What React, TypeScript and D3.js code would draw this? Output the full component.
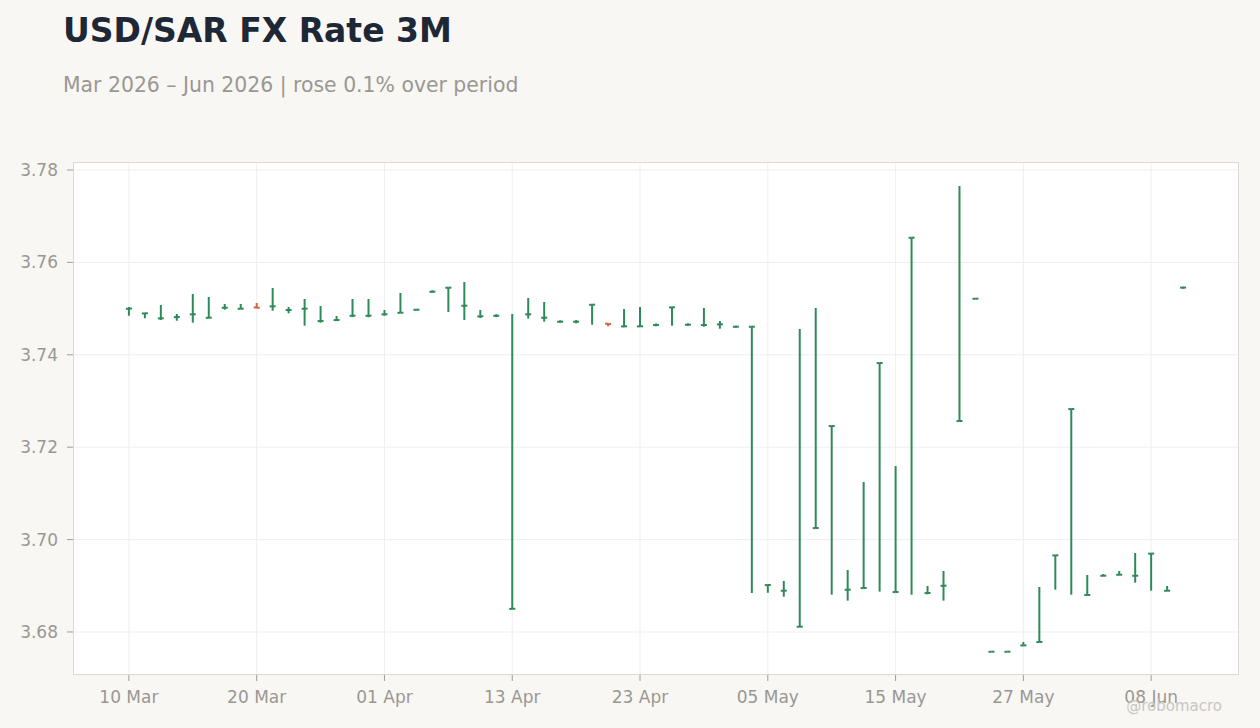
import * as d3 from "d3";

// business days, Mar 10 – Jun 10 2026
const dates = [
  "2026-03-10", "2026-03-11", "2026-03-12", "2026-03-13", "2026-03-16", "2026-03-17",
  "2026-03-18", "2026-03-19", "2026-03-20", "2026-03-23", "2026-03-24", "2026-03-25",
  "2026-03-26", "2026-03-27", "2026-03-30", "2026-03-31", "2026-04-01", "2026-04-02",
  "2026-04-03", "2026-04-06", "2026-04-07", "2026-04-08", "2026-04-09", "2026-04-10",
  "2026-04-13", "2026-04-14", "2026-04-15", "2026-04-16", "2026-04-17", "2026-04-20",
  "2026-04-21", "2026-04-22", "2026-04-23", "2026-04-24", "2026-04-27", "2026-04-28",
  "2026-04-29", "2026-04-30", "2026-05-01", "2026-05-04", "2026-05-05", "2026-05-06",
  "2026-05-07", "2026-05-08", "2026-05-11", "2026-05-12", "2026-05-13", "2026-05-14",
  "2026-05-15", "2026-05-18", "2026-05-19", "2026-05-20", "2026-05-21", "2026-05-22",
  "2026-05-25", "2026-05-26", "2026-05-27", "2026-05-28", "2026-05-29", "2026-06-01",
  "2026-06-02", "2026-06-03", "2026-06-04", "2026-06-05", "2026-06-08", "2026-06-09",
  "2026-06-10",
];

const open = [
  3.74995, 3.74895, 3.74788, 3.74815, 3.74875, 3.748, 3.75018, 3.74996, 3.75025, 3.75048,
  3.74968, 3.74996, 3.7473, 3.74751, 3.74844, 3.74844, 3.74875, 3.74909, 3.74974, 3.75364,
  3.75451, 3.75061, 3.74831, 3.74844, 3.685, 3.74875, 3.74801, 3.74715, 3.74715, 3.75083,
  3.74673, 3.74615, 3.74615, 3.74643, 3.75026, 3.7465, 3.74643, 3.74658, 3.74606, 3.74606,
  3.69015, 3.68892, 3.68113, 3.70249, 3.72457, 3.68914, 3.6895, 3.73821, 3.68864, 3.76533,
  3.68842, 3.69, 3.72565, 3.75213, 3.67572, 3.67572, 3.67708, 3.67782, 3.69658, 3.72825,
  3.68799, 3.69217, 3.69238, 3.69217, 3.69695, 3.68892, 3.75453,
];

const high = [
  3.75035, 3.749, 3.75078, 3.74883, 3.75316, 3.75251, 3.751, 3.751, 3.75121, 3.75446,
  3.75035, 3.75208, 3.75056, 3.7484, 3.75208, 3.75208, 3.7497, 3.75338, 3.7499, 3.75396,
  3.75453, 3.75576, 3.7497, 3.74877, 3.74883, 3.75229, 3.75143, 3.74747, 3.74753, 3.75085,
  3.74675, 3.74991, 3.75035, 3.74675, 3.75028, 3.7468, 3.75013, 3.74732, 3.7463, 3.74608,
  3.69017, 3.69104, 3.74558, 3.75013, 3.72459, 3.69342, 3.71247, 3.73823, 3.71593, 3.76535,
  3.68996, 3.6932, 3.77654, 3.75225, 3.6758, 3.6758, 3.67784, 3.68974, 3.6966, 3.72827,
  3.69234, 3.69255, 3.6932, 3.6971, 3.69697, 3.68996, 3.75475,
];

const low = [
  3.74846, 3.7479, 3.74753, 3.74738, 3.74695, 3.748, 3.74976, 3.74996, 3.75015, 3.74955,
  3.74898, 3.7463, 3.74695, 3.74732, 3.74818, 3.74812, 3.74846, 3.74909, 3.7496, 3.75344,
  3.74926, 3.74753, 3.74797, 3.74818, 3.68498, 3.74782, 3.74717, 3.74695, 3.7468, 3.74652,
  3.74617, 3.74595, 3.7461, 3.74617, 3.7463, 3.7463, 3.74608, 3.74565, 3.7459, 3.68844,
  3.68849, 3.68764, 3.6811, 3.70248, 3.68807, 3.68678, 3.68948, 3.68873, 3.68862, 3.68807,
  3.68816, 3.68678, 3.72563, 3.75205, 3.67568, 3.67568, 3.67706, 3.6778, 3.68916, 3.68807,
  3.68797, 3.69206, 3.6923, 3.69067, 3.68894, 3.6889, 3.7543,
];

const close = [
  3.75, 3.74898, 3.7479, 3.74818, 3.74877, 3.74803, 3.7502, 3.74998, 3.75018, 3.7505,
  3.7497, 3.74998, 3.74732, 3.74753, 3.74846, 3.74846, 3.74877, 3.74911, 3.74976, 3.75366,
  3.75453, 3.75063, 3.74833, 3.74846, 3.68502, 3.74877, 3.74803, 3.74717, 3.74717, 3.75085,
  3.74665, 3.74617, 3.74617, 3.74645, 3.75028, 3.74652, 3.74645, 3.7466, 3.74608, 3.74608,
  3.69017, 3.68894, 3.68115, 3.70251, 3.72459, 3.68916, 3.68952, 3.73823, 3.68866, 3.76535,
  3.68844, 3.69002, 3.72567, 3.75215, 3.67574, 3.67574, 3.6771, 3.67784, 3.6966, 3.72827,
  3.68801, 3.69219, 3.6924, 3.69219, 3.69697, 3.68894, 3.75455,
];

const yTicks = [3.68, 3.7, 3.72, 3.74, 3.76, 3.78];

const width = 1260;
const height = 728;
const left = 73;
const right = 1239;
const top = 162;
const bottom = 675;

const UP = "#2e8b57";
const DOWN = "#d6623c";
const FONT = "DejaVu Sans, sans-serif";

export default function App() {
  const parse = d3.timeParse("%Y-%m-%d");
  const fmt = d3.timeFormat("%d %b");

  const x = d3
    .scaleLinear()
    .domain([-3.5, dates.length - 1 + 3.5])
    .range([left, right]);
  const y = d3.scaleLinear().domain([3.67069, 3.78173]).range([bottom, top]);

  const xTicks = d3.range(0, dates.length, 8);

  return (
    <svg
      width={width}
      height={height}
      style={{ position: "absolute", left: 0, top: 0, display: "block" }}
      fontFamily={FONT}
    >
      <rect width={width} height={height} fill="#f8f7f4" />
      <text x={63} y={42} fontSize={33} fontWeight="bold" fill="#1e2736">
        USD/SAR FX Rate 3M
      </text>
      <text x={63} y={92} fontSize={20.4} fill="#9a9793">
        Mar 2026 – Jun 2026 | rose 0.1% over period
      </text>

      <rect x={left} y={top} width={right - left} height={bottom - top} fill="#ffffff" />

      <g stroke="#efefef" strokeWidth={1}>
        {xTicks.map((i) => (
          <line key={i} x1={x(i)} x2={x(i)} y1={top} y2={bottom} />
        ))}
        {yTicks.map((t) => (
          <line key={t} x1={left} x2={right} y1={y(t)} y2={y(t)} />
        ))}
      </g>

      <rect
        x={left + 0.5}
        y={top + 0.5}
        width={right - left - 1}
        height={bottom - top - 1}
        fill="none"
        stroke="#ddd8d2"
      />

      <g stroke="#a09c97" strokeWidth={1}>
        {xTicks.map((i) => (
          <line key={i} x1={x(i)} x2={x(i)} y1={bottom} y2={bottom + 6} />
        ))}
        {yTicks.map((t) => (
          <line key={t} x1={left - 6} x2={left} y1={y(t)} y2={y(t)} />
        ))}
      </g>

      <g fontSize={17} fill="#9a9793">
        {xTicks.map((i) => (
          <text key={i} x={x(i)} y={703} textAnchor="middle">
            {fmt(parse(dates[i])!)}
          </text>
        ))}
        {yTicks.map((t) => (
          <text key={t} x={58} y={y(t)} dy="0.35em" textAnchor="end">
            {d3.format(".2f")(t)}
          </text>
        ))}
      </g>

      <g strokeWidth={2}>
        {dates.map((d, i) => {
          const cx = x(i);
          const color = close[i] >= open[i] ? UP : DOWN;
          return (
            <g key={d} stroke={color}>
              <line x1={cx} x2={cx} y1={y(high[i])} y2={y(low[i])} />
              <line x1={cx - 3} x2={cx} y1={y(open[i])} y2={y(open[i])} />
              <line x1={cx} x2={cx + 3} y1={y(close[i])} y2={y(close[i])} />
            </g>
          );
        })}
      </g>

      <text x={1222} y={711} fontSize={15} fill="#c9c7c3" textAnchor="end">
        @robomacro
      </text>
    </svg>
  );
}
